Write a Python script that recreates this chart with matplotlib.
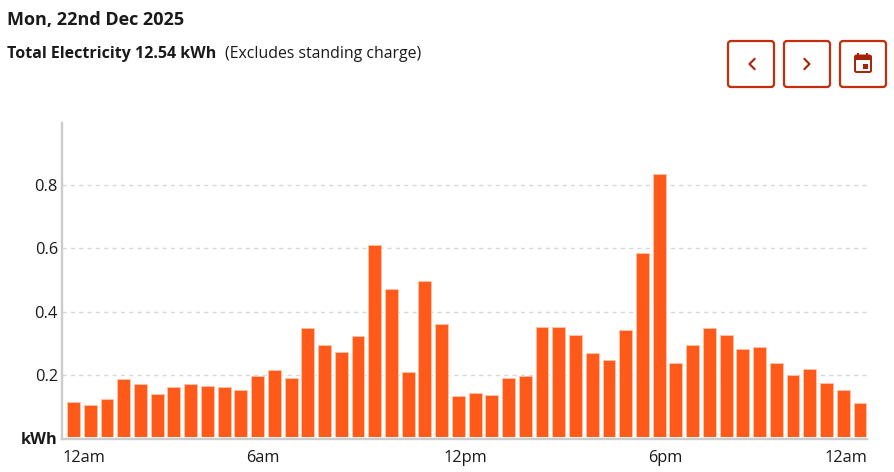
import matplotlib
matplotlib.use('Agg')
import matplotlib.pyplot as plt
from matplotlib.patches import FancyBboxPatch, Rectangle

plt.rcParams['font.family'] = ['Open Sans', 'DejaVu Sans']

W, H = 895, 472

# half-hourly usage
usage = [0.116, 0.106, 0.124, 0.186, 0.171, 0.141, 0.161, 0.173,
         0.166, 0.163, 0.153, 0.198, 0.216, 0.191, 0.349, 0.294,
         0.274, 0.324, 0.610, 0.470, 0.209, 0.497, 0.360, 0.133,
         0.143, 0.138, 0.191, 0.198, 0.350, 0.352, 0.325, 0.269,
         0.248, 0.343, 0.585, 0.834, 0.239, 0.294, 0.347, 0.325,
         0.281, 0.289, 0.238, 0.201, 0.219, 0.176, 0.154, 0.113]
y_ticks = [0, 0.2, 0.4, 0.6, 0.8]
y_labels = ['kWh', '0.2', '0.4', '0.6', '0.8']
x_ticks = [-0.69, 11.3, 23.4, 35.35, 47.42]
x_labels = ['12am', '6am', '12pm', '6pm', '12am']

orange = '#FF5A19'
axis_grey = '#CCCCCC'
text_col = '#1A1A1A'
btn_col = '#C62D0B'
icon_col = '#A32208'

fig = plt.figure(figsize=(W / 100, H / 100), dpi=100)

# --- chart ---
ax = fig.add_axes([62 / W, 1 - 438.5 / H, 805 / W, 315.5 / H])
ax.bar(range(len(usage)), usage, width=0.77, color=orange, edgecolor='#FFC4AA',
       linewidth=0.6, zorder=2)
ax.axhline(0, color='white', linewidth=2.9, zorder=3)
ax.set_xlim(-0.69, 47.42)
ax.set_ylim(0, 0.9946)
for s in ['top', 'right']:
    ax.spines[s].set_visible(False)
for s in ['left', 'bottom']:
    ax.spines[s].set_color(axis_grey)
    ax.spines[s].set_linewidth(1.7)
    ax.spines[s].set_zorder(4)
ax.set_yticks(y_ticks, y_labels, fontsize=11.8, color=text_col)
ax.get_yticklabels()[0].set_fontweight('bold')
ax.set_xticks(x_ticks, x_labels, fontsize=11.8, color=text_col)
ax.get_xticklabels()[0].set_ha('left')
ax.get_xticklabels()[-1].set_ha('right')
ax.tick_params(axis='both', length=0)
ax.tick_params(axis='y', pad=3)
ax.tick_params(axis='x', pad=8.5)
for y in y_ticks[1:]:
    ax.axhline(y, color='#D9D9D9', linewidth=1, linestyle=(0, (3, 3)), zorder=1)

# --- header and buttons, in pixel coordinates ---
top = fig.add_axes([0, 0, 1, 1], facecolor='none')
top.set_xlim(0, W)
top.set_ylim(H, 0)
top.axis('off')

top.text(7, 20, 'Mon, 22nd Dec 2025', fontsize=13, fontweight='bold',
         color=text_col, va='center')
top.text(7, 54, 'Total Electricity 12.54 kWh', fontsize=11.5, fontweight='bold',
         color=text_col, va='center')
top.text(225, 54, '(Excludes standing charge)', fontsize=11.4,
         color=text_col, va='center')

for x0 in [728, 784, 840]:
    top.add_patch(FancyBboxPatch((x0, 41), 46, 46,
                                 boxstyle='round,pad=0,rounding_size=3',
                                 facecolor='white', edgecolor=btn_col, linewidth=1.6))

top.plot([754.5, 749.5, 754.5], [59, 64, 69], color=icon_col, linewidth=1.5)
top.plot([804.5, 809.5, 804.5], [59, 64, 69], color=icon_col, linewidth=1.5)

# calendar icon
top.add_patch(FancyBboxPatch((855, 55.5), 16, 16.5,
                             boxstyle='round,pad=0,rounding_size=1.5',
                             facecolor='white', edgecolor=icon_col, linewidth=1.4))
top.add_patch(Rectangle((855, 55), 16, 5, facecolor=icon_col, edgecolor='none'))
top.add_patch(Rectangle((857.5, 53), 2, 3, facecolor=icon_col, edgecolor='none'))
top.add_patch(Rectangle((866.5, 53), 2, 3, facecolor=icon_col, edgecolor='none'))
top.add_patch(Rectangle((862.7, 63.7), 5.4, 5.4, facecolor=icon_col, edgecolor='none'))

fig.savefig('out.png', dpi=100)
